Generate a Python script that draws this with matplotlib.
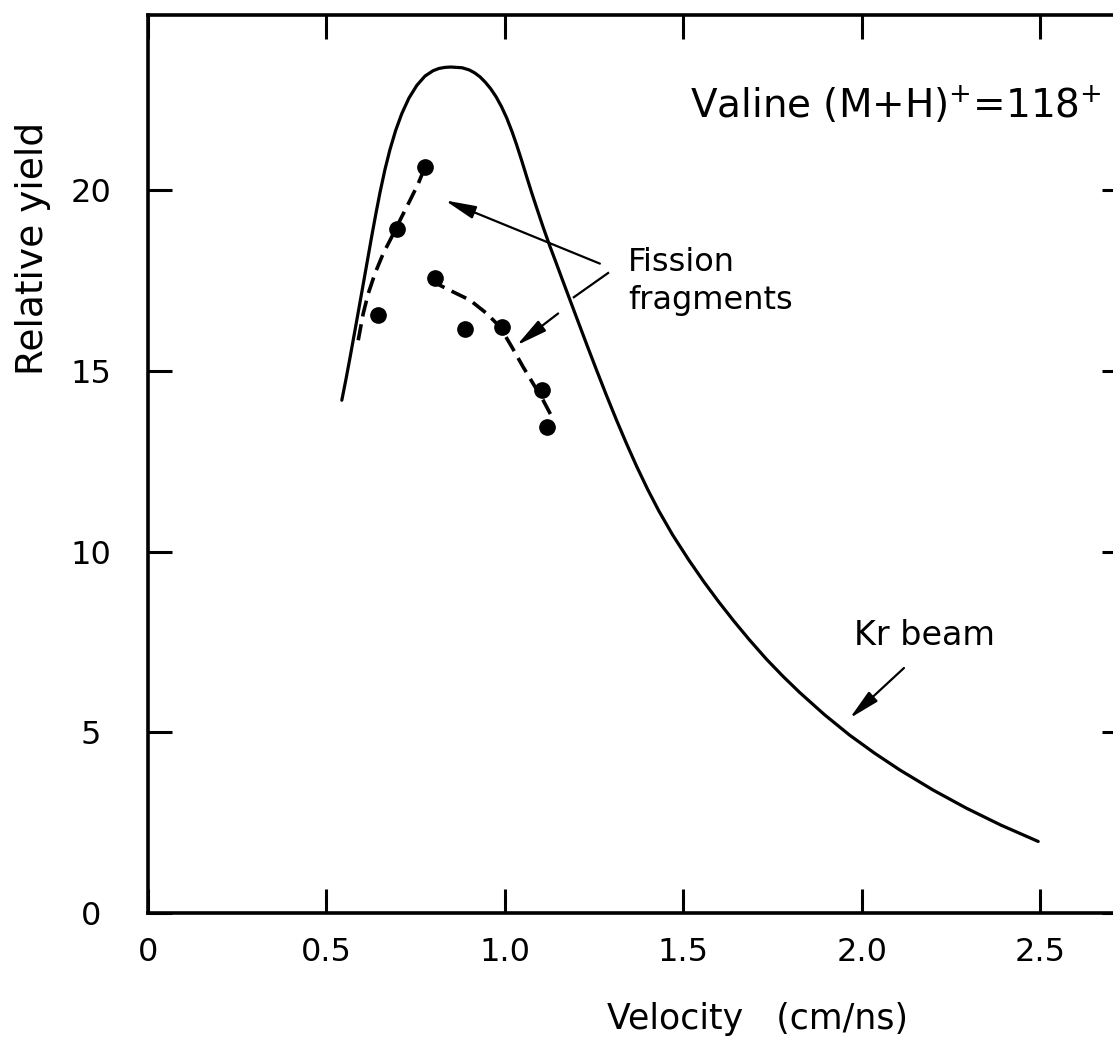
import matplotlib
matplotlib.use("Agg")
import matplotlib.pyplot as plt

plt.rcParams['font.family'] = ['DejaVu Sans']

# Kr beam yield curve (velocity in cm/ns, relative yield)
kr_velocity = [0.543, 0.555, 0.566, 0.582, 0.599, 0.613, 0.627, 0.639, 0.650, 0.664,
               0.678, 0.694, 0.711, 0.731, 0.753, 0.776, 0.799, 0.815, 0.832, 0.848,
               0.865, 0.880, 0.900, 0.915, 0.930, 0.945, 0.960, 0.975, 0.990, 1.005,
               1.020, 1.033, 1.047, 1.061, 1.075, 1.089, 1.107, 1.126, 1.145, 1.163,
               1.182, 1.201, 1.230, 1.258, 1.285, 1.313, 1.341, 1.369, 1.400, 1.431,
               1.470, 1.515, 1.557, 1.599, 1.642, 1.684, 1.733, 1.780, 1.826, 1.895,
               1.966, 2.036, 2.106, 2.200, 2.293, 2.390, 2.494]
kr_yield = [14.19, 14.79, 15.37, 16.24, 17.18, 17.96, 18.74, 19.38, 19.94, 20.58,
            21.13, 21.66, 22.12, 22.55, 22.90, 23.16, 23.31, 23.37, 23.40, 23.41,
            23.40, 23.39, 23.33, 23.25, 23.14, 22.99, 22.81, 22.59, 22.32, 22.00,
            21.62, 21.25, 20.82, 20.37, 19.93, 19.51, 18.98, 18.45, 17.95, 17.47,
            16.97, 16.47, 15.71, 14.99, 14.31, 13.63, 12.98, 12.36, 11.72, 11.13,
            10.46, 9.77, 9.17, 8.61, 8.07, 7.57, 7.02, 6.54, 6.10, 5.49,
            4.92, 4.42, 3.96, 3.40, 2.90, 2.43, 1.98]

# Fission fragment measurements
ff_velocity = [0.645, 0.697, 0.776, 0.804, 0.888, 0.991, 1.103, 1.118]
ff_yield = [16.54, 18.94, 20.64, 17.56, 16.17, 16.22, 14.47, 13.44]

# Dashed guide curves through the fission fragment data
guide1_velocity = [0.589, 0.603, 0.617, 0.636, 0.659, 0.683, 0.706, 0.734, 0.757, 0.776]
guide1_yield = [15.85, 16.59, 17.14, 17.70, 18.25, 18.71, 19.17, 19.72, 20.18, 20.64]
guide2_velocity = [0.790, 0.846, 0.902, 0.949, 0.986, 1.019, 1.051, 1.079, 1.107, 1.132]
guide2_yield = [17.51, 17.23, 16.96, 16.59, 16.22, 15.67, 15.11, 14.65, 14.19, 13.72]

x_ticks = [0, 0.5, 1.0, 1.5, 2.0, 2.5]
x_tick_labels = ["0", "0.5", "1.0", "1.5", "2.0", "2.5"]
y_ticks = [0, 5, 10, 15, 20]
y_tick_labels = ["0", "5", "10", "15", "20"]

W, H = 1113, 1040
fig = plt.figure(figsize=(W / 100, H / 100), dpi=100)
# axes frame runs past the right edge of the figure
ax = fig.add_axes([148 / W, (H - 913) / H, 978 / W, 898 / H])
ax.set_xlim(0, 2.74)
ax.set_ylim(0, 24.85)

ax.plot(kr_velocity, kr_yield, color='black', lw=2.3,
        solid_capstyle='round', solid_joinstyle='round')
ax.plot(guide1_velocity, guide1_yield, color='black', lw=2.6, ls=(0, (4.5, 2.2)))
ax.plot(guide2_velocity, guide2_yield, color='black', lw=2.6, ls=(0, (4.5, 2.2)))
ax.plot(ff_velocity, ff_yield, 'o', color='black', ms=11)

for s in ax.spines.values():
    s.set_linewidth(2.6)

ax.set_xticks(x_ticks)
ax.set_xticklabels(x_tick_labels)
ax.set_yticks(y_ticks)
ax.set_yticklabels(y_tick_labels)
ax.tick_params(direction='in', length=17, width=2.2, top=True, right=True,
               labelsize=23)
ax.tick_params(axis='x', pad=17)
ax.tick_params(axis='y', pad=41)
for lab in ax.get_yticklabels():
    lab.set_horizontalalignment('center')

ax.set_xlabel("Velocity   (cm/ns)", fontsize=25, labelpad=25, x=0.623)
ax.set_ylabel("Relative yield", fontsize=27, labelpad=14, y=0.74)

ax.text(2.672, 22.35, r"Valine (M+H)$^{+}$=118$^{+}$", fontsize=28,
        ha='right', va='center')
ax.text(1.345, 18.01, "Fission", fontsize=23, ha='left', va='center')
ax.text(1.345, 16.96, "fragments", fontsize=23, ha='left', va='center')
ax.text(2.176, 7.69, "Kr beam", fontsize=24, ha='center', va='center')

arrow_style = dict(arrowstyle='-|>,head_length=0.85,head_width=0.18',
                   mutation_scale=22, color='black', lw=1.6,
                   shrinkA=0, shrinkB=0)
ax.annotate("", xy=(0.832, 19.72), xytext=(1.266, 17.97), arrowprops=arrow_style)
ax.annotate("", xy=(1.033, 15.71), xytext=(1.149, 16.59), arrowprops=arrow_style)
ax.plot([1.289, 1.193], [17.71, 17.04], color='black', lw=1.6)
ax.annotate("", xy=(1.966, 5.39), xytext=(2.118, 6.78), arrowprops=arrow_style)

fig.savefig("out.png", dpi=100)
